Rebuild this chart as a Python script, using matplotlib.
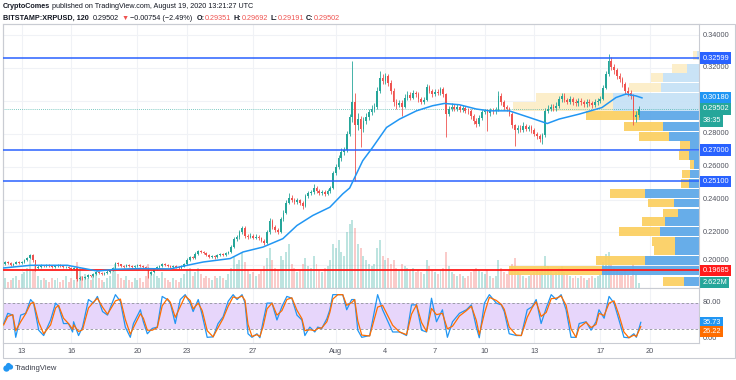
import numpy as np
import matplotlib
matplotlib.use("Agg")
import matplotlib.pyplot as plt
import matplotlib.transforms as mtransforms
from matplotlib.patches import Rectangle, Circle

plt.rcParams['font.family'] = ['Liberation Sans', 'DejaVu Sans']

# ---------------------------------------------------------------- data
# x axis is "day of July 2020" (Aug 1 = 32), candles are 4h bars
first_bar = 11 + 16 / 24
bar_len = 4 / 24
first_open = 0.2010

close = [0.2015, 0.2008, 0.2020, 0.2012, 0.2003, 0.2010, 0.2018, 0.2012, 0.2020, 0.2030,
         0.2045, 0.2062, 0.2030, 0.1985, 0.1992, 0.1998, 0.1993, 0.2000, 0.1996, 0.1990,
         0.1995, 0.2000, 0.1993, 0.1988, 0.1990, 0.1985, 0.1978, 0.1982, 0.1918, 0.1925,
         0.1920, 0.1930, 0.1938, 0.1935, 0.1945, 0.1958, 0.1952, 0.1948, 0.1955, 0.1962,
         0.1970, 0.1985, 0.2012, 0.2005, 0.1998, 0.1992, 0.2002, 0.1995, 0.1990, 0.1996,
         0.2000, 0.1993, 0.1990, 0.1985, 0.1945, 0.1960, 0.1975, 0.1990, 0.1995, 0.2008,
         0.2000, 0.1993, 0.1990, 0.1995, 0.1988, 0.1985, 0.1992, 0.2010, 0.2035, 0.2050,
         0.2045, 0.2070, 0.2085, 0.2080, 0.2075, 0.2062, 0.2050, 0.2055, 0.2048, 0.2060,
         0.2068, 0.2065, 0.2072, 0.2080, 0.2110, 0.2160, 0.2170, 0.2200, 0.2228, 0.2180,
         0.2172, 0.2180, 0.2168, 0.2175, 0.2165, 0.2150, 0.2135, 0.2200, 0.2270, 0.2230,
         0.2215, 0.2205, 0.2280, 0.2320, 0.2380, 0.2410, 0.2400, 0.2385, 0.2395, 0.2380,
         0.2360, 0.2420, 0.2440, 0.2445, 0.2470, 0.2450, 0.2440, 0.2445, 0.2435, 0.2450,
         0.2470, 0.2560, 0.2600, 0.2650, 0.2690, 0.2700, 0.2800, 0.2900, 0.2990, 0.2850,
         0.2890, 0.2830, 0.2880, 0.2900, 0.2930, 0.2950, 0.2960, 0.3060, 0.3140, 0.3120,
         0.3150, 0.3110, 0.3060, 0.2990, 0.2975, 0.2985, 0.2965, 0.3020, 0.3035, 0.3020,
         0.3045, 0.3040, 0.3010, 0.2995, 0.3005, 0.3085, 0.3060, 0.3040, 0.3055, 0.3050,
         0.3070, 0.3040, 0.2920, 0.2950, 0.2965, 0.2950, 0.2960, 0.2945, 0.2955, 0.2940,
         0.2935, 0.2905, 0.2880, 0.2860, 0.2895, 0.2930, 0.2935, 0.2925, 0.2940, 0.2935,
         0.2945, 0.3030, 0.2990, 0.2960, 0.2950, 0.2920, 0.2850, 0.2820, 0.2835, 0.2825,
         0.2845, 0.2830, 0.2838, 0.2820, 0.2800, 0.2785, 0.2770, 0.2790, 0.2940, 0.2950,
         0.2960, 0.2955, 0.2970, 0.3010, 0.3030, 0.3005, 0.2995, 0.3010, 0.2990, 0.2985,
         0.3000, 0.2990, 0.2980, 0.2995, 0.2985, 0.2975, 0.2990, 0.3000, 0.3010, 0.3080,
         0.3160, 0.3240, 0.3205, 0.3185, 0.3150, 0.3130, 0.3100, 0.3060, 0.3045, 0.3030,
         0.2900, 0.2915, 0.2950]

high = [0.2023, 0.2022, 0.2027, 0.2026, 0.2018, 0.2016, 0.2025, 0.2024, 0.2027, 0.2036,
        0.2052, 0.2068, 0.2066, 0.2034, 0.1999, 0.2005, 0.2004, 0.2007, 0.2006, 0.2001,
        0.2002, 0.2006, 0.2005, 0.1999, 0.1997, 0.1996, 0.1991, 0.1990, 0.1986, 0.1934,
        0.1932, 0.1937, 0.1945, 0.1944, 0.1952, 0.1965, 0.1964, 0.1958, 0.1962, 0.1969,
        0.1977, 0.1992, 0.2022, 0.2018, 0.2010, 0.2004, 0.2009, 0.2008, 0.2001, 0.2003,
        0.2007, 0.2005, 0.1999, 0.1996, 0.1989, 0.1967, 0.1982, 0.1997, 0.2003, 0.2015,
        0.2013, 0.2006, 0.1999, 0.2002, 0.2001, 0.1994, 0.1999, 0.2017, 0.2042, 0.2058,
        0.2058, 0.2078, 0.2093, 0.2092, 0.2088, 0.2081, 0.2068, 0.2062, 0.2061, 0.2067,
        0.2075, 0.2074, 0.2079, 0.2088, 0.2122, 0.2172, 0.2185, 0.2214, 0.2240, 0.2236,
        0.2190, 0.2194, 0.2190, 0.2188, 0.2186, 0.2174, 0.2160, 0.2212, 0.2288, 0.2282,
        0.2242, 0.2228, 0.2292, 0.2335, 0.2394, 0.2440, 0.2425, 0.2412, 0.2410, 0.2406,
        0.2390, 0.2432, 0.2454, 0.2460, 0.2495, 0.2482, 0.2462, 0.2458, 0.2456, 0.2463,
        0.2484, 0.2575, 0.2618, 0.2668, 0.2712, 0.2722, 0.2815, 0.2918, 0.3245, 0.3050,
        0.2925, 0.2910, 0.2902, 0.2925, 0.2952, 0.2972, 0.2985, 0.3082, 0.3180, 0.3162,
        0.3172, 0.3165, 0.3125, 0.3075, 0.3010, 0.3005, 0.3002, 0.3040, 0.3058, 0.3052,
        0.3066, 0.3062, 0.3055, 0.3025, 0.3022, 0.3103, 0.3098, 0.3072, 0.3070, 0.3072,
        0.3085, 0.3082, 0.3050, 0.2970, 0.2985, 0.2980, 0.2978, 0.2975, 0.2972, 0.2968,
        0.2955, 0.2948, 0.2918, 0.2895, 0.2912, 0.2945, 0.2952, 0.2950, 0.2958, 0.2955,
        0.2962, 0.3060, 0.3045, 0.3005, 0.2975, 0.2962, 0.2930, 0.2862, 0.2852, 0.2850,
        0.2872, 0.2860, 0.2855, 0.2850, 0.2832, 0.2812, 0.2798, 0.2805, 0.2955, 0.2972,
        0.2980, 0.2978, 0.2990, 0.3028, 0.3050, 0.3045, 0.3020, 0.3028, 0.3025, 0.3008,
        0.3018, 0.3015, 0.3005, 0.3012, 0.3010, 0.3000, 0.3008, 0.3018, 0.3028, 0.3098,
        0.3180, 0.3283, 0.3265, 0.3225, 0.3200, 0.3168, 0.3145, 0.3115, 0.3085, 0.3068,
        0.3042, 0.2935, 0.2969]

low = [0.2002, 0.2001, 0.2002, 0.2006, 0.1996, 0.1998, 0.2005, 0.2007, 0.2008, 0.2015,
       0.2024, 0.2040, 0.2022, 0.1968, 0.1978, 0.1986, 0.1987, 0.1988, 0.1990, 0.1984,
       0.1985, 0.1990, 0.1987, 0.1981, 0.1982, 0.1979, 0.1972, 0.1972, 0.1905, 0.1910,
       0.1912, 0.1914, 0.1925, 0.1928, 0.1930, 0.1940, 0.1946, 0.1941, 0.1942, 0.1949,
       0.1956, 0.1964, 0.1980, 0.1998, 0.1991, 0.1985, 0.1987, 0.1989, 0.1983, 0.1984,
       0.1990, 0.1987, 0.1983, 0.1978, 0.1925, 0.1938, 0.1954, 0.1970, 0.1984, 0.1990,
       0.1994, 0.1987, 0.1983, 0.1984, 0.1981, 0.1978, 0.1979, 0.1987, 0.2004, 0.2029,
       0.2038, 0.2040, 0.2064, 0.2072, 0.2068, 0.2055, 0.2043, 0.2044, 0.2041, 0.2043,
       0.2054, 0.2058, 0.2059, 0.2066, 0.2074, 0.2104, 0.2148, 0.2162, 0.2192, 0.2168,
       0.2160, 0.2163, 0.2157, 0.2158, 0.2153, 0.2140, 0.2122, 0.2128, 0.2192, 0.2218,
       0.2203, 0.2190, 0.2198, 0.2270, 0.2312, 0.2370, 0.2386, 0.2372, 0.2374, 0.2368,
       0.2345, 0.2352, 0.2408, 0.2428, 0.2436, 0.2438, 0.2426, 0.2430, 0.2422, 0.2426,
       0.2440, 0.2462, 0.2548, 0.2588, 0.2636, 0.2672, 0.2690, 0.2788, 0.2870, 0.2515,
       0.2820, 0.2717, 0.2812, 0.2862, 0.2882, 0.2915, 0.2930, 0.2948, 0.3045, 0.3100,
       0.3102, 0.3092, 0.3040, 0.2968, 0.2952, 0.2960, 0.2910, 0.2955, 0.3005, 0.3002,
       0.3008, 0.3022, 0.2995, 0.2978, 0.2982, 0.2998, 0.3045, 0.3022, 0.3028, 0.3035,
       0.3038, 0.3025, 0.2778, 0.2905, 0.2938, 0.2935, 0.2938, 0.2930, 0.2932, 0.2925,
       0.2920, 0.2890, 0.2862, 0.2842, 0.2848, 0.2885, 0.2918, 0.2818, 0.2910, 0.2920,
       0.2922, 0.2935, 0.2975, 0.2945, 0.2935, 0.2905, 0.2832, 0.2727, 0.2805, 0.2808,
       0.2812, 0.2815, 0.2815, 0.2802, 0.2785, 0.2768, 0.2752, 0.2740, 0.2782, 0.2925,
       0.2935, 0.2938, 0.2940, 0.2958, 0.2995, 0.2990, 0.2978, 0.2980, 0.2975, 0.2968,
       0.2970, 0.2975, 0.2962, 0.2965, 0.2970, 0.2958, 0.2960, 0.2975, 0.2985, 0.3002,
       0.3070, 0.3150, 0.3185, 0.3165, 0.3130, 0.3112, 0.3082, 0.3040, 0.3028, 0.3010,
       0.2850, 0.2870, 0.2900]

# volume per bar, millions
volume = [6, 4, 5, 3, 4, 5, 6, 4, 7, 8,
          10, 14, 9, 12, 6, 4, 5, 4, 3, 5,
          4, 5, 3, 4, 6, 3, 5, 4, 13, 10,
          6, 7, 5, 4, 6, 8, 5, 4, 3, 5,
          6, 9, 12, 7, 5, 4, 6, 4, 3, 5,
          4, 5, 3, 6, 12, 8, 7, 6, 5, 8,
          5, 4, 3, 5, 4, 3, 5, 7, 9, 10,
          6, 8, 10, 7, 5, 6, 5, 4, 6, 5,
          6, 5, 4, 7, 10, 16, 12, 14, 18, 13,
          9, 7, 8, 6, 7, 9, 11, 15, 20, 14,
          10, 9, 16, 14, 18, 22, 12, 10, 8, 9,
          12, 15, 11, 10, 16, 12, 9, 8, 10, 11,
          14, 22, 20, 24, 18, 16, 28, 32, 34, 30,
          22, 20, 16, 14, 12, 11, 12, 20, 24, 16,
          14, 15, 12, 14, 10, 9, 12, 11, 10, 9,
          10, 8, 9, 8, 7, 14, 11, 9, 8, 7,
          9, 10, 18, 11, 8, 7, 6, 7, 6, 5,
          6, 8, 9, 10, 9, 8, 7, 9, 6, 5,
          6, 14, 10, 8, 7, 9, 12, 15, 8, 7,
          6, 5, 6, 7, 8, 9, 8, 10, 16, 11,
          9, 7, 8, 10, 11, 8, 7, 6, 5, 6,
          5, 6, 5, 4, 5, 6, 5, 6, 7, 13,
          17, 18, 12, 10, 9, 8, 8, 9, 7, 6,
          12, 7, 2.622]

# moving average (blue line), read at its turning points
ma_day = [11.73, 13.54, 15.77, 16.38, 17.58, 18.67, 20.18, 21.99, 23.01, 23.98,
          25.61, 26.39, 27.60, 28.80, 29.65, 30.61, 31.64, 32.42, 32.84, 33.63,
          34.23, 35.07, 35.86, 36.88, 37.85, 38.57, 39.48, 40.50, 41.29, 42.49,
          43.70, 44.79, 45.51, 46.72, 48.10, 48.95, 49.55, 50.15, 50.52]
ma_val = [0.1982, 0.2000, 0.2000, 0.1988, 0.1965, 0.1976, 0.1980, 0.1978, 0.2000, 0.2020,
          0.2041, 0.2081, 0.2111, 0.2162, 0.2242, 0.2303, 0.2353, 0.2434, 0.2470, 0.2636,
          0.2717, 0.2838, 0.2889, 0.2939, 0.2970, 0.2984, 0.2976, 0.2950, 0.2939, 0.2939,
          0.2899, 0.2862, 0.2889, 0.2919, 0.2959, 0.3020, 0.3041, 0.3030, 0.3018]

# Stoch RSI, read at the turning points
stoch_day = [11.91, 12.16, 12.46, 12.64, 12.94, 13.24, 13.54, 13.72, 14.03, 14.33,
             14.75, 15.05, 15.23, 15.53, 15.83, 16.08, 16.14, 16.44, 16.68, 17.04,
             17.34, 17.58, 17.89, 18.19, 18.67, 18.97, 19.27, 19.57, 19.76, 20.18,
             20.36, 20.60, 20.90, 21.20, 21.50, 21.81, 21.99, 22.29, 22.59, 22.89,
             23.19, 23.37, 23.68, 23.92, 24.22, 24.58, 24.88, 25.18, 25.49, 25.79,
             26.03, 26.33, 26.51, 26.69, 26.93, 27.23, 27.41, 27.60, 27.84, 28.14,
             28.44, 28.74, 29.04, 29.34, 29.65, 29.95, 30.13, 30.43, 30.73, 30.91,
             31.15, 31.46, 31.64, 31.82, 32.12, 32.42, 32.66, 32.96, 33.14, 33.33,
             33.57, 34.05, 34.53, 34.83, 35.44, 35.86, 36.28, 36.58, 36.88, 37.19,
             37.49, 37.79, 38.09, 38.45, 38.75, 39.06, 39.48, 39.90, 40.20, 40.50,
             40.68, 40.99, 41.29, 41.71, 42.01, 42.19, 42.49, 42.92, 43.22, 43.58,
             43.88, 44.12, 44.42, 44.73, 45.03, 45.33, 45.63, 45.93, 46.23, 46.53,
             46.72, 47.14, 47.44, 47.74, 47.92, 48.23, 48.53, 48.83, 49.13, 49.43,
             49.73, 50.03, 50.18, 50.45]
stoch_k = [33, 56, 52, 2, 52, 56, 87, 79, 18, 6,
           41, 79, 72, 33, 33, 14, 37, 6, 25, 87,
           79, 94, 60, 52, 98, 83, 25, 2, 33, 64,
           37, 10, 22, 25, 94, 87, 79, 33, 87, 98,
           79, 60, 87, 52, 2, 3, 33, 48, 83, 98,
           87, 98, 79, 10, 2, 10, 1, 37, 79, 79,
           41, 71, 94, 90, 52, 41, 6, 25, 14, 25,
           22, 44, 64, 98, 98, 98, 64, 87, 87, 18,
           2, 6, 98, 64, 14, 14, 6, 75, 75, 18,
           14, 90, 37, 64, 2, 37, 56, 64, 75, 25,
           1, 79, 98, 79, 75, 60, 10, 6, 6, 64,
           71, 87, 33, 68, 98, 87, 98, 64, 2, 2,
           33, 37, 18, 37, 64, 45, 94, 79, 41, 2,
           1, 10, 2, 35.73]
stoch_d = [30, 49, 53, 17, 37, 55, 78, 81, 36, 10,
           30, 68, 74, 45, 33, 20, 30, 15, 19, 68,
           81, 90, 70, 54, 84, 88, 42, 9, 24, 55,
           45, 18, 18, 24, 73, 89, 81, 47, 71, 95,
           85, 66, 79, 62, 17, 3, 24, 44, 72, 93,
           90, 95, 85, 31, 4, 8, 4, 26, 66, 79,
           52, 62, 87, 91, 63, 44, 17, 19, 17, 22,
           23, 37, 58, 88, 98, 98, 74, 80, 87, 39,
           7, 5, 70, 74, 29, 14, 8, 54, 75, 35,
           15, 67, 53, 56, 21, 27, 50, 62, 72, 40,
           8, 56, 92, 85, 76, 65, 25, 7, 6, 47,
           69, 82, 49, 58, 89, 90, 95, 74, 21, 2,
           24, 36, 24, 31, 56, 51, 79, 84, 52, 14,
           1, 7, 4, 26.22]

# visible-range volume profile: row price, up volume (yellow), down volume (blue)
vp_price = [0.3273, 0.3197, 0.3139, 0.3079, 0.3018, 0.2964, 0.2909, 0.2845, 0.2785, 0.2727,
            0.2670, 0.2615, 0.2555, 0.2497, 0.2436, 0.2379, 0.2318, 0.2264, 0.2203, 0.2142,
            0.2088, 0.2027, 0.1970, 0.1903]
vp_up = [4, 15, 12, 32, 77, 100, 53, 39, 30, 10,
         10, 4, 8, 8, 35, 26, 15, 23, 41, 23,
         21, 49, 93, 21]
vp_down = [2, 12, 36, 38, 86, 86, 60, 36, 30, 9,
           10, 5, 9, 10, 54, 25, 21, 34, 39, 24,
           24, 54, 97, 15]
vp_value_area = [False] * 6 + [True] * 18

levels_blue = [0.32599, 0.27000, 0.25100]
level_red = 0.19685
last_price = 0.29502
countdown = "38:35"

date_days = [13, 16, 20, 23, 27, 32, 35, 38, 41, 44, 48, 51]
date_labels = ["13", "16", "20", "23", "27", "Aug", "4", "7", "10", "13", "17", "20"]
price_ticks = [0.20, 0.22, 0.24, 0.26, 0.28, 0.30, 0.32, 0.34]
price_ticks_hidden = [0.30]   # covered by the MA / last price labels

publisher = "CryptoComes"
published = "published on TradingView.com, August 19, 2020 13:21:27 UTC"
symbol = "BITSTAMP:XRPUSD, 120"
change, change_pct = -0.00754, -2.49
ohlc = [("O", 0.29351), ("H", 0.29692), ("L", 0.29191), ("C", 0.29502)]

# ---------------------------------------------------------------- styling
UP, DOWN = "#26a69a", "#ef5350"
BLUE_LINE, MA_COL = "#2962ff", "#2196f3"
TXT, GRID, FRAME = "#50535e", "#f0f2f6", "#c9ccd3"
FS = 5.3

W, H = 736, 380
def fx(px): return px / W
def fy(py): return 1 - py / H

fig = plt.figure(figsize=(W / 100, H / 100), dpi=100)
main_rect = [fx(3), fy(288), fx(699) - fx(3), fy(24) - fy(288)]
st_rect = [fx(3), fy(343), fx(699) - fx(3), fy(288) - fy(343)]

ax_bg = fig.add_axes(main_rect, zorder=0)
ax_vol = fig.add_axes(main_rect, zorder=1, sharex=ax_bg)
ax_vp = fig.add_axes(main_rect, zorder=2, sharey=ax_bg)
ax = fig.add_axes(main_rect, zorder=3, sharex=ax_bg, sharey=ax_bg)
ax_st = fig.add_axes(st_rect, zorder=3, sharex=ax_bg)

ax_bg.set_xlim(11.87, 53.97)
ax_bg.set_ylim(0.18620, 0.34669)
for a in (ax_vol, ax_vp, ax):
    a.patch.set_visible(False)
for a in (ax_bg, ax_vol, ax_vp, ax):
    a.tick_params(left=False, bottom=False, labelleft=False, labelbottom=False)
    for s in a.spines.values():
        s.set_visible(False)
for s in ax.spines.values():
    s.set_visible(True)
    s.set_color(FRAME)
    s.set_linewidth(0.8)

# grid
for p in price_ticks:
    ax_bg.axhline(p, color=GRID, lw=0.8)
for d in date_days:
    ax_bg.axvline(d, color=GRID, lw=0.8)
    ax_st.axvline(d, color=GRID, lw=0.8, zorder=0)

# candles
close_a = np.array(close)
open_a = np.array([first_open] + close[:-1])
t = first_bar + np.arange(len(close)) * bar_len
rising = close_a >= open_a
cols = np.where(rising, UP, DOWN)

ax_vol.bar(t, volume, width=0.12, color=cols, alpha=0.3, lw=0)
ax_vol.set_ylim(0, 132)

ax.vlines(t, low, high, colors=cols, lw=0.6, zorder=3)
body_lo = np.minimum(open_a, close_a)
body_h = np.maximum(np.abs(close_a - open_a), 0.0003)
ax.bar(t, body_h, bottom=body_lo, width=0.1, color=cols, lw=0, zorder=4)

# volume profile (anchored at the right edge)
vp_up_a, vp_dn_a = np.array(vp_up), np.array(vp_down)
vp_va = np.array(vp_value_area)
ax_vp.set_xlim((vp_up_a + vp_dn_a).max() / 0.273, 0)
for in_va, yc, bc in ((True, "#fbcf5f", "#5aa6e8"), (False, "#fcedc6", "#c5e1f6")):
    m = vp_va == in_va
    ax_vp.barh(np.array(vp_price)[m], vp_dn_a[m], height=0.0054, color=bc, lw=0, alpha=0.92)
    ax_vp.barh(np.array(vp_price)[m], vp_up_a[m], left=vp_dn_a[m], height=0.0054,
               color=yc, lw=0, alpha=0.92)

# levels and MA
for lv in levels_blue:
    ax.axhline(lv, color=BLUE_LINE, lw=1.1, zorder=5)
ax.axhline(level_red, color="#ff1a1a", lw=1.3, zorder=5)
ax.axhline(last_price, color=UP, lw=0.6, ls=(0, (1, 1.5)), alpha=0.8, zorder=2)
ax.plot(ma_day, ma_val, color=MA_COL, lw=1.1, zorder=5)

# stoch RSI pane
ax_st.set_ylim(-10.8, 113)
ax_st.axhspan(20, 80, color="#e7d6fb", lw=0, zorder=0)
for lv in (80, 20):
    ax_st.axhline(lv, color="#8f929b", lw=0.6, ls=(0, (3, 2.5)), zorder=1)
ax_st.plot(stoch_day, stoch_k, color=MA_COL, lw=0.9, zorder=3)
ax_st.plot(stoch_day, stoch_d, color="#ff6d00", lw=0.9, zorder=3)
ax_st.set_yticks([])
ax_st.set_xticks(date_days)
ax_st.set_xticklabels(date_labels)
ax_st.tick_params(axis="x", length=0, pad=3.5, labelsize=FS, labelcolor=TXT)
for s in ax_st.spines.values():
    s.set_color(FRAME)
    s.set_linewidth(0.8)

# right-hand scale labels
def scale_label(a, y, text, bg=None, dy=0, z=6):
    tr = mtransforms.blended_transform_factory(a.transAxes, a.transData)
    kw = dict(fontsize=FS, va="center", ha="left", clip_on=False, zorder=z,
              annotation_clip=False)
    if bg is None:
        kw["color"] = TXT
    else:
        kw["color"] = "white"
        kw["bbox"] = dict(boxstyle="square,pad=0.3", fc=bg, ec="none")
    a.annotate(text, xy=(1.005, y), xycoords=tr, xytext=(0, dy),
               textcoords="offset points", **kw)

for p in price_ticks:
    if p in price_ticks_hidden:
        continue
    # the lowest tick sits just above the red level label
    scale_label(ax, p, f"{p:.5f}", z=5, dy=3.5 if p == min(price_ticks) else 0)
scale_label(ax, levels_blue[0], f"{levels_blue[0]:.5f}", BLUE_LINE)
scale_label(ax, ma_val[-1], f"{ma_val[-1]:.5f}", MA_COL)
scale_label(ax, last_price, f"{last_price:.5f}", UP)
scale_label(ax, last_price, countdown, UP, dy=-8.6)
for lv in levels_blue[1:]:
    scale_label(ax, lv, f"{lv:.5f}", BLUE_LINE)
scale_label(ax, level_red, f"{level_red:.5f}", "#ff1a1a")
scale_label(ax_vol, volume[-1], f"{volume[-1]:.3f}M", UP)

scale_label(ax_st, 80, "80.00", z=5)
scale_label(ax_st, 0, "0.00", z=5)
scale_label(ax_st, stoch_k[-1], f"{stoch_k[-1]:.2f}", MA_COL)
scale_label(ax_st, stoch_d[-1], f"{stoch_d[-1]:.2f}", "#ff6d00", dy=-3.5)

# outer frame (price scale and date scale areas)
fig.add_artist(Rectangle((fx(3), fy(358)), fx(735) - fx(3), fy(24) - fy(358),
                         transform=fig.transFigure, fill=False, ec=FRAME, lw=0.8))

# header
hdr = fig.add_axes([0, 0, 1, 1], zorder=10)
hdr.axis("off")

def text_row(parts, x, y):
    prev = None
    for text, color, weight, gap in parts:
        kw = dict(fontsize=5.2, color=color, fontweight=weight, va="bottom", ha="left")
        if prev is None:
            prev = hdr.text(x, y, text, transform=fig.transFigure, **kw)
        else:
            prev = hdr.annotate(text, xy=(1, 0), xycoords=prev, xytext=(gap, 0),
                                textcoords="offset points", **kw)

DARK = "#131722"
text_row([(publisher, DARK, "bold", 0), (published, DARK, "normal", 1.5)], fx(3), fy(10.5))
row2 = [(symbol, DARK, "bold", 0),
        (f"{last_price:.5f}", DARK, "normal", 3),
        ("\u25bc", DOWN, "normal", 1.5),
        (f"\u2212{abs(change):.5f} (\u2212{abs(change_pct):.2f}%)", DARK, "normal", 1.5)]
for i, (k, v) in enumerate(ohlc):
    row2.append((f"{k}:", DARK, "bold", 3 if i == 0 else 1.8))
    row2.append((f"{v:.5f}", DOWN, "normal", 0))
text_row(row2, fx(3), fy(22))

# TradingView logo at the bottom
for cx, cy, r in ((6.5, 368.5, 3.2), (10.5, 367, 2.6), (8.5, 365.5, 2.6)):
    fig.add_artist(Circle((cx / 100, (H - cy) / 100), r / 100,
                          transform=fig.dpi_scale_trans, color="#2196f3", lw=0))
fig.text(fx(15), fy(368), "TradingView", fontsize=5.5, color="#3a3e4a", va="center")

fig.savefig("out.png", dpi=100)
